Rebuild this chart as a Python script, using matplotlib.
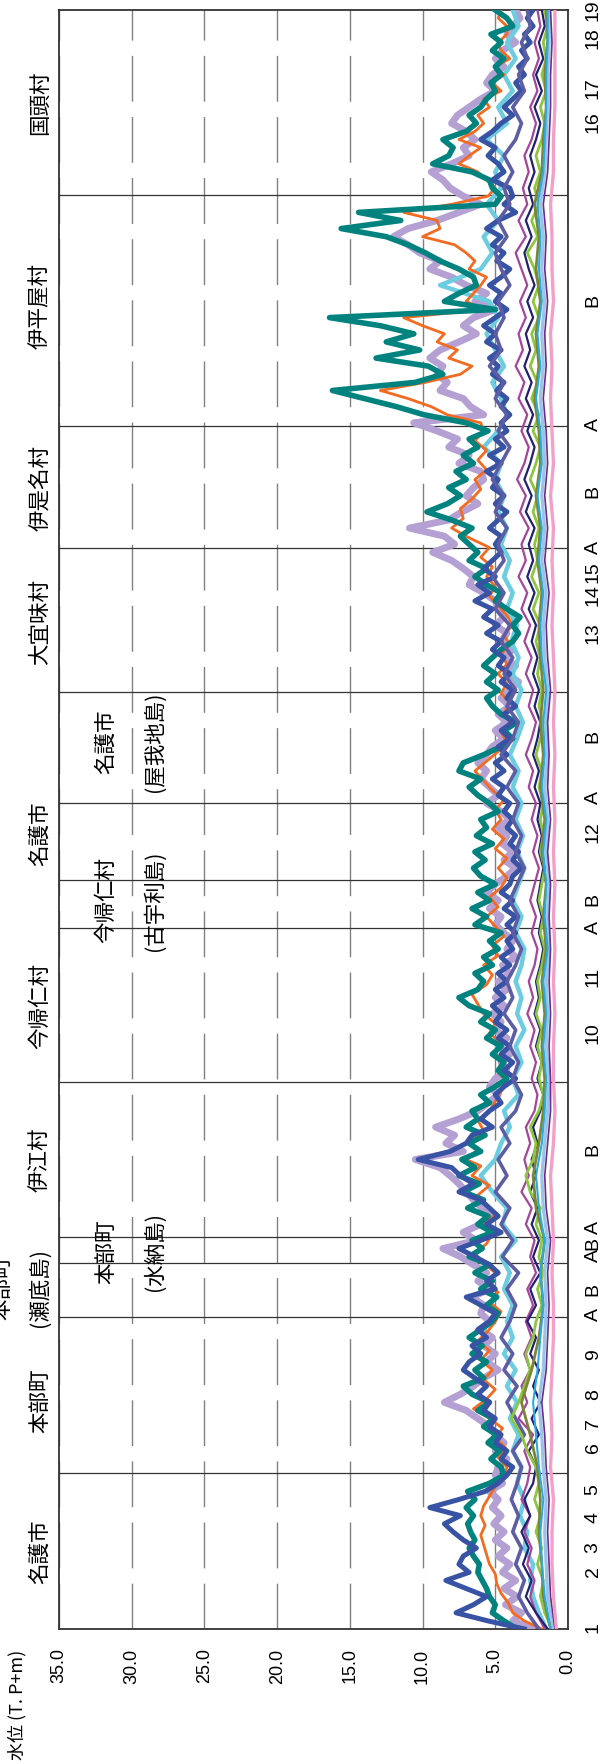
import matplotlib
matplotlib.use('Agg')
import matplotlib.pyplot as plt
import matplotlib.transforms as mtransforms
import numpy as np

plt.rcParams['font.family'] = ['Liberation Sans', 'Noto Sans CJK JP']

# position along the coast (0 = point 1, 1000 = point 19)
pos5 = np.arange(0, 1001, 5)
pos10 = np.arange(0, 1001, 10)
pos20 = np.arange(0, 1001, 20)

teal = [3.5, 4.4, 5.2, 5.0, 5.4, 5.6, 5.9, 6.2, 6.1, 6.5, 6.8, 6.4, 6.7, 6.9, 6.5, 7.0, 6.4, 6.9, 5.4, 4.4,
        4.6, 5.3, 4.7, 5.5, 4.9, 5.8, 5.1, 6.2, 5.4, 6.6, 7.2, 5.8, 6.4, 5.6, 6.6, 5.9, 6.8, 6.0, 5.2, 4.8,
        5.6, 4.9, 6.0, 5.2, 6.4, 5.4, 6.8, 5.9, 6.6, 5.2, 6.2, 5.5, 6.9, 5.8, 7.2, 6.1, 7.5, 6.4, 7.3, 6.0,
        6.8, 5.7, 7.0, 6.2, 6.6, 5.4, 6.0, 5.0, 4.2, 4.8, 4.4, 5.2, 4.6, 5.6, 5.0, 6.0, 5.4, 6.8, 7.5, 6.2,
        5.8, 6.4, 5.2, 5.8, 4.8, 5.4, 4.6, 6.4, 5.6, 6.6, 5.4, 6.2, 5.0, 6.0, 6.5, 5.7, 6.4, 5.2, 6.3, 5.6,
        6.0, 4.8, 5.4, 6.2, 6.8, 6.0, 7.5, 7.2, 5.8, 4.6, 3.8, 4.4, 3.5, 4.6, 5.2, 5.6, 4.8, 5.6, 5.0, 5.8,
        5.2, 4.6, 3.8, 3.4, 3.8, 3.3, 4.2, 5.0, 4.6, 5.6, 6.4, 5.6, 6.8, 6.2, 6.8, 7.4, 6.6, 8.0, 9.7, 8.3,
        7.4, 8.2, 7.0, 7.7, 6.5, 7.2, 6.2, 6.8, 5.5, 7.0, 9.9, 11.8, 14.0, 16.2, 10.5, 8.6, 9.6, 13.2, 10.2, 12.5,
        10.6, 12.9, 16.4, 5.0, 8.5, 7.5, 6.3, 6.5, 7.5, 8.8, 9.8, 11.0, 12.5, 15.6, 11.5, 14.4, 5.0, 4.6, 5.2, 5.4,
        6.6, 9.3, 8.2, 7.9, 8.6, 7.0, 6.3, 6.8, 6.0, 5.6, 5.0, 5.3, 4.6, 5.0, 4.4, 5.2, 4.6, 5.3, 3.8, 4.2,
        5.0]

lavender = [2.5, 3.8, 3.2, 4.3, 3.5, 4.4, 3.6, 4.5, 4.0, 4.8, 4.2, 5.0, 4.4, 5.1, 4.6, 5.2, 4.8, 5.4, 4.5, 5.0,
            4.8, 4.2, 5.0, 4.4, 5.0, 5.4, 6.2, 7.0, 8.5, 7.4, 6.5, 5.8, 4.8, 5.6, 5.0, 5.8, 5.2, 6.0, 5.4, 6.0,
            5.8, 6.6, 5.4, 6.2, 5.6, 6.5, 7.4, 8.6, 6.3, 7.2, 6.0, 5.0, 5.9, 6.5, 7.0, 7.5, 8.1, 8.8, 10.5, 7.2,
            8.4, 7.8, 9.1, 7.5, 6.2, 5.5, 4.8, 5.4, 5.0, 4.2, 4.6, 4.0, 4.8, 4.2, 5.0, 4.6, 5.2, 4.4, 5.0, 4.2,
            4.8, 4.0, 4.5, 3.6, 4.2, 3.8, 4.4, 5.0, 4.6, 5.4, 4.8, 5.6, 5.0, 4.2, 3.6, 4.4, 3.8, 4.5, 4.2, 4.8,
            4.0, 4.6, 5.6, 4.8, 5.4, 6.0, 5.6, 6.2, 5.6, 5.2, 4.4, 5.0, 4.2, 4.8, 4.0, 4.6, 4.0, 3.4, 4.2, 3.6,
            4.4, 3.8, 4.6, 4.2, 5.0, 4.4, 4.8, 5.0, 5.8, 6.8, 6.5, 7.2, 8.0, 9.3, 7.8, 8.5, 10.9, 8.2, 7.3, 6.2,
            7.0, 6.5, 5.8, 6.0, 7.5, 6.8, 8.2, 7.6, 9.0, 10.6, 5.8, 6.7, 7.2, 8.8, 8.3, 9.0, 8.6, 9.5, 8.8, 7.5,
            6.3, 7.2, 6.5, 5.0, 6.4, 5.6, 7.0, 8.0, 9.5, 8.8, 10.2, 11.0, 12.0, 11.0, 9.0, 7.5, 6.0, 7.2, 8.1, 8.6,
            9.4, 8.0, 6.8, 7.2, 6.4, 7.0, 8.0, 7.6, 6.8, 6.0, 5.0, 5.6, 5.2, 4.4, 5.0, 4.5, 3.6, 4.2, 3.8, 3.3,
            3.6]

blue = [3.0, 5.5, 7.7, 6.5, 5.6, 7.0, 8.4, 6.8, 7.5, 7.2, 6.3, 7.2, 7.9, 8.5, 7.4, 9.5, 7.5, 5.7, 4.8, 4.2,
        3.8, 4.6, 4.2, 5.0, 4.6, 5.4, 5.0, 5.8, 5.4, 6.2, 5.6, 6.4, 7.2, 6.8, 6.0, 6.6, 5.6, 6.2, 5.4, 5.0,
        6.0, 7.0, 5.0, 5.6, 4.8, 5.4, 6.4, 7.5, 6.0, 4.6, 5.6, 4.8, 5.4, 6.0, 7.5, 6.5, 7.4, 8.0, 10.3, 8.1,
        7.0, 6.6, 5.2, 6.0, 5.4, 4.6, 5.0, 4.4, 3.6, 4.4, 3.8, 4.6, 4.0, 4.8, 4.2, 5.0, 4.6, 5.2, 4.4, 5.0,
        4.2, 4.8, 4.0, 4.6, 3.8, 4.2, 3.6, 4.2, 3.6, 4.4, 3.8, 4.6, 4.0, 3.8, 3.2, 3.8, 3.4, 4.0, 3.6, 4.2,
        3.8, 4.4, 4.0, 4.8, 4.4, 5.2, 4.4, 5.0, 4.2, 4.8, 4.0, 4.6, 3.8, 4.4, 3.6, 4.2, 3.8, 4.6, 4.0, 4.8,
        4.4, 5.2, 4.6, 5.6, 4.8, 5.8, 5.2, 6.4, 5.4, 6.2, 5.0, 5.8, 5.2, 4.6, 5.0, 4.6, 5.4, 4.8, 4.2, 5.0,
        4.4, 5.2, 4.8, 5.6, 4.6, 5.4, 4.4, 5.0, 4.2, 4.6, 4.0, 4.6, 4.2, 4.9, 4.4, 5.2, 4.8, 5.4, 4.6, 5.6,
        5.0, 5.8, 5.0, 4.2, 5.0, 4.6, 5.4, 4.6, 4.0, 4.9, 4.4, 5.2, 4.6, 5.6, 4.8, 3.6, 4.4, 3.8, 4.0, 5.2,
        4.4, 4.8, 5.5, 5.0, 6.0, 5.2, 4.6, 3.8, 4.4, 3.8, 3.2, 3.6, 3.0, 3.4, 2.8, 3.2, 2.6, 3.0, 2.4, 2.8,
        2.4]

orange = [(0, 1.8), (5, 3.0), (10, 3.8), (16, 4.1), (22, 4.6), (28, 4.9), (34, 5.0), (40, 5.4), (46, 5.6),
          (52, 5.8), (58, 6.0), (64, 5.7), (70, 6.0), (76, 5.8), (82, 5.4), (88, 5.0), (94, 4.4),
          (100, 4.2), (106, 4.8), (112, 4.3), (118, 5.0), (124, 4.5), (130, 5.4), (136, 6.5), (142, 5.6),
          (148, 5.0), (154, 5.8), (160, 5.2), (166, 6.0), (172, 5.4), (178, 6.2), (184, 5.5), (190, 5.0),
          (196, 4.6), (202, 5.4), (208, 4.8), (214, 5.6), (220, 5.0), (226, 5.8), (232, 6.4), (238, 5.6),
          (244, 5.2), (250, 5.8), (256, 5.0), (262, 5.6), (268, 6.2), (274, 5.4), (280, 6.6), (286, 6.0),
          (290, 7.0), (296, 6.2), (302, 6.8), (308, 5.8), (314, 6.2), (320, 5.4), (326, 5.0), (332, 4.6),
          (338, 4.2), (344, 4.8), (350, 4.4), (356, 5.0), (362, 4.6), (368, 5.4), (374, 5.0), (380, 5.8),
          (386, 6.2), (392, 6.6), (398, 5.6), (404, 5.2), (410, 5.8), (416, 4.8), (422, 5.2), (428, 4.4),
          (434, 5.0), (440, 5.6), (446, 4.8), (452, 5.4), (458, 4.6), (464, 4.2), (470, 4.8), (476, 4.2),
          (482, 5.0), (488, 4.4), (494, 5.2), (500, 4.6), (506, 5.0), (512, 4.4), (518, 5.2), (524, 5.8),
          (530, 6.4), (536, 5.6), (542, 4.8), (548, 4.2), (554, 4.6), (560, 4.0), (566, 4.4), (572, 4.0),
          (578, 4.6), (584, 4.2), (590, 4.8), (596, 4.2), (602, 4.6), (608, 4.0), (614, 4.4), (620, 3.8),
          (626, 4.2), (632, 4.8), (638, 5.4), (644, 5.0), (650, 5.6), (656, 5.2), (662, 6.0), (668, 5.4),
          (674, 6.8), (680, 8.0), (686, 7.2), (692, 7.4), (698, 6.6), (704, 6.0), (710, 6.4), (716, 5.6),
          (722, 6.2), (728, 5.6), (734, 6.4), (740, 5.8), (745, 6.0), (750, 8.3), (755, 9.4), (760, 11.0),
          (765, 12.9), (770, 9.8), (775, 7.4), (780, 6.6), (785, 8.2), (790, 7.6), (795, 9.0), (800, 8.5),
          (805, 10.0), (810, 11.3), (815, 5.8), (820, 7.0), (825, 6.5), (830, 6.0), (835, 5.6), (840, 6.8),
          (845, 6.4), (850, 7.0), (855, 7.8), (860, 10.0), (865, 8.8), (870, 9.0), (875, 11.3), (880, 8.0),
          (885, 5.5), (890, 5.0), (895, 5.6), (900, 6.2), (905, 7.5), (910, 6.8), (915, 6.0), (920, 7.5),
          (925, 6.4), (930, 5.8), (935, 6.2), (940, 5.4), (945, 5.8), (950, 4.6), (955, 5.2), (960, 4.4),
          (965, 5.0), (970, 4.0), (975, 4.6), (980, 4.8), (985, 4.2), (990, 4.2), (995, 4.8), (1000, 4.6)]

cyan = [1.5, 2.0, 2.4, 2.6, 2.4, 3.0, 2.8, 3.3, 3.0, 3.5,
        3.2, 3.8, 3.4, 4.0, 3.5, 4.2, 3.6, 4.4, 3.8, 4.2,
        3.8, 4.4, 4.0, 4.6, 3.6, 4.5, 4.2, 5.2, 6.0, 5.0,
        4.6, 4.0, 4.4, 3.4, 3.8, 3.2, 3.6, 3.0, 3.5, 3.2,
        3.6, 3.2, 3.0, 3.6, 3.2, 3.8, 3.4, 3.0, 3.5, 3.1,
        3.6, 3.2, 3.8, 3.4, 4.0, 3.5, 3.1, 3.6, 3.2, 3.8,
        3.4, 3.9, 3.5, 4.2, 3.8, 4.4, 4.0, 4.6, 4.2, 4.8,
        4.4, 5.0, 4.6, 5.8, 4.8, 4.2, 4.6, 5.2, 4.4, 5.0,
        5.6, 4.8, 5.4, 8.8, 6.0, 5.2, 5.8, 4.8, 5.6, 4.6,
        5.0, 4.4, 5.6, 4.2, 4.8, 3.8, 4.4, 3.6, 4.2, 3.4,
        3.8]

slate = [2.0, 2.8, 3.4, 3.0, 3.6, 3.2, 3.8, 3.4, 3.9, 3.5,
         3.2, 3.8, 3.0, 3.6, 4.2, 3.5, 4.4, 3.8, 4.6, 4.0,
         3.6, 4.2, 3.4, 4.5, 3.8, 4.6, 4.0, 5.0, 4.2, 4.8,
         4.0, 4.6, 3.6, 3.2, 3.8, 3.4, 4.0, 3.6, 4.4, 3.8,
         4.2, 3.6, 3.2, 3.8, 3.4, 4.0, 3.5, 3.0, 3.6, 3.2,
         3.8, 3.4, 4.2, 3.6, 4.6, 3.8, 3.4, 4.2, 3.6, 4.4,
         3.8, 4.6, 4.0, 5.0, 4.4, 5.2, 4.4, 4.8, 4.2, 5.0,
         4.4, 5.2, 4.6, 4.0, 4.8, 4.2, 5.0, 4.4, 5.4, 4.6,
         5.0, 4.4, 4.8, 4.0, 4.6, 5.0, 4.2, 4.8, 4.0, 4.4,
         3.8, 4.4, 3.6, 3.2, 3.8, 3.0, 3.4, 2.8, 3.2, 2.6,
         2.8]

magenta = [1.6, 2.2, 2.6, 2.3, 2.8, 2.5, 3.0, 2.6, 3.2, 2.8,
           2.6, 3.0, 2.4, 3.4, 2.8, 3.2, 2.6, 3.0, 2.5, 2.9,
           2.4, 2.8, 2.2, 2.6, 2.3, 2.9, 2.5, 3.2, 2.7, 3.0,
           2.6, 2.9, 2.3, 2.1, 2.5, 2.2, 2.6, 2.3, 2.8, 2.4,
           2.7, 2.3, 2.1, 2.5, 2.2, 2.6, 2.3, 2.0, 2.4, 2.1,
           2.5, 2.2, 2.7, 2.4, 2.9, 2.5, 2.2, 2.7, 2.4, 2.9,
           2.5, 3.0, 2.6, 3.2, 2.8, 3.4, 2.9, 3.2, 2.7, 3.3,
           2.9, 3.5, 3.0, 2.7, 3.2, 2.8, 3.4, 3.0, 3.6, 3.1,
           3.4, 2.9, 3.3, 2.8, 3.2, 3.6, 2.9, 3.4, 2.8, 3.1,
           2.7, 3.0, 2.5, 2.2, 2.6, 2.1, 2.4, 2.0, 2.3, 1.9,
           2.1]

navy = [1.4, 2.2, 2.9, 2.5, 3.1, 2.7, 3.2, 2.6, 3.0, 2.4,
        2.2, 2.7, 2.0, 2.5, 1.9, 2.4, 2.0, 2.6, 2.2, 2.8,
        2.2, 2.6, 1.9, 2.4, 2.0, 2.5, 2.1, 2.6, 2.2, 2.5,
        2.1, 2.4, 1.9, 1.7, 2.1, 1.8, 2.2, 1.9, 2.3, 2.0,
        2.2, 1.9, 1.7, 2.0, 1.8, 2.1, 1.9, 1.7, 2.0, 1.8,
        2.1, 1.9, 2.3, 2.0, 2.4, 2.1, 1.9, 2.3, 2.0, 2.4,
        2.1, 2.5, 2.2, 2.7, 2.3, 2.8, 2.4, 2.7, 2.3, 2.9,
        2.5, 3.0, 2.6, 2.3, 2.8, 2.4, 2.9, 2.5, 3.0, 2.6,
        2.9, 2.4, 2.8, 2.3, 2.7, 3.0, 2.5, 2.9, 2.4, 2.7,
        2.3, 2.6, 2.2, 1.9, 2.3, 1.8, 2.2, 1.7, 2.0, 1.6,
        1.8]

lime = [1.1, 1.6, 1.9, 1.7, 2.1, 1.8, 2.2, 1.9, 2.3, 2.0,
        2.2, 2.8, 3.2, 3.9, 3.4, 3.0, 2.6, 2.9, 2.4, 2.2,
        1.8, 2.1, 1.7, 2.0, 1.8, 2.2, 1.9, 2.6, 2.9, 2.4,
        2.2, 2.6, 2.0, 1.7, 2.0, 1.8, 2.1, 1.8, 2.2, 1.9,
        2.1, 1.8, 1.6, 1.9, 1.7, 2.0, 1.8, 1.6, 1.9, 1.7,
        1.9, 1.7, 2.0, 1.8, 2.2, 1.9, 1.7, 2.0, 1.8, 2.1,
        1.9, 2.2, 1.9, 2.4, 2.0, 2.5, 2.1, 2.3, 2.0, 2.4,
        2.1, 2.6, 2.2, 1.9, 2.4, 2.0, 2.5, 2.1, 2.6, 2.2,
        2.5, 2.0, 2.4, 2.0, 2.3, 2.8, 2.1, 2.5, 2.0, 2.3,
        1.9, 2.2, 1.8, 1.6, 1.9, 1.5, 1.8, 1.5, 1.7, 1.4,
        1.6]

olive = [1.2, 1.7, 1.8, 2.0, 1.9, 2.1, 2.6, 3.2, 2.5, 2.0,
         1.7, 1.9, 1.6, 2.2, 2.4, 2.0, 1.7, 1.6, 1.8, 1.6,
         1.8, 1.5, 1.7, 1.5, 1.8, 1.6, 1.9, 1.7, 1.9, 1.7,
         1.9, 2.0, 1.8, 2.1, 1.9, 2.2, 1.9, 2.0, 2.3, 2.0,
         2.2, 1.9, 2.2, 2.0, 2.3, 1.8, 1.7, 1.5, 1.6, 1.4,
         1.5]

lightblue = [1.0, 1.4, 1.5, 1.6, 1.5, 1.7, 1.8, 2.0, 1.7, 1.6,
             1.5, 1.6, 1.4, 1.7, 1.8, 1.6, 1.4, 1.3, 1.5, 1.4,
             1.5, 1.3, 1.4, 1.3, 1.5, 1.4, 1.6, 1.4, 1.5, 1.4,
             1.6, 1.7, 1.5, 1.8, 1.6, 1.8, 1.6, 1.7, 1.9, 1.7,
             1.8, 1.6, 1.8, 1.7, 1.9, 1.6, 1.5, 1.4, 1.4, 1.3,
             1.3]

sky = [1.2, 1.6, 1.8, 1.9, 1.7, 2.0, 2.2, 2.4, 2.1, 1.9,
       1.7, 1.9, 1.6, 2.0, 2.2, 1.8, 1.6, 1.5, 1.7, 1.5,
       1.7, 1.4, 1.6, 1.5, 1.7, 1.5, 1.8, 1.6, 1.7, 1.5,
       1.8, 1.9, 1.7, 2.0, 1.8, 2.1, 1.8, 1.9, 2.2, 1.9,
       2.1, 1.8, 2.0, 1.9, 2.1, 1.7, 1.6, 1.5, 1.5, 1.4,
       1.4]

darkpurple = [0.9, 1.2, 1.3, 1.4, 1.3, 1.5, 1.6, 1.8, 1.5, 1.4,
              1.3, 1.4, 1.2, 1.5, 1.6, 1.4, 1.2, 1.2, 1.3, 1.2,
              1.3, 1.2, 1.3, 1.2, 1.4, 1.2, 1.4, 1.3, 1.4, 1.2,
              1.4, 1.5, 1.3, 1.6, 1.4, 1.6, 1.4, 1.5, 1.7, 1.5,
              1.6, 1.4, 1.6, 1.5, 1.7, 1.4, 1.3, 1.2, 1.2, 1.1,
              1.2]

pink = [0.8, 1.0, 1.1, 1.1, 1.0, 1.2, 1.1, 1.2, 1.1, 1.0,
        1.0, 1.1, 1.0, 1.1, 1.2, 1.0, 0.9, 1.0, 1.0, 0.9,
        1.0, 0.9, 1.0, 0.9, 1.0, 0.9, 1.0, 0.9, 1.0, 0.9,
        1.0, 1.1, 1.0, 1.1, 1.0, 1.2, 1.0, 1.1, 1.2, 1.1,
        1.2, 1.0, 1.1, 1.1, 1.2, 1.0, 1.0, 0.9, 0.9, 0.9,
        0.9]

# axis labels along the coast
tick_pos = [1, 35.2, 50.6, 68.6, 85.9, 111.8, 127.2, 144.5, 169.2, 194, 209.4, 231, 238.4, 248.3,
            295.9, 368.1, 402.7, 433.6, 450.3, 492.3, 513.3, 551, 615.2, 638.7, 652.9, 668.3,
            702.3, 743.7, 820.3, 930.8, 951.8, 982.7, 1000]
tick_lab = ['1', '2', '3', '4', '5', '6', '7', '8', '9', 'A', 'B', 'A', 'B', 'A', 'B', '10', '11',
            'A', 'B', '12', 'A', 'B', '13', '14', '15', 'A', 'B', 'A', 'B', '16', '17', '18', '19']
dividers = [96.4, 192.7, 226, 242, 337.9, 433, 462.6, 510, 578.8, 667.7, 743, 885.7]

# municipality names outside the frame and island names inside it
names_out = [('名護市', 48), ('本部町', 141), ('(瀬底島)', 211), ('伊江村', 290), ('今帰仁村', 385),
             ('名護市', 491), ('大宜味村', 622), ('伊是名村', 705), ('伊平屋村', 817), ('国頭村', 943)]
names_in = [('本部町', '(水納島)', 233), ('今帰仁村', '(古宇利島)', 450), ('名護市', '(屋我地島)', 548)]

W, H = 613, 1764
fig = plt.figure(figsize=(W / 100, H / 100), dpi=100)
ax = fig.add_axes([59 / W, 1 - 1629 / H, 509 / W, 1619 / H])

o = np.array(orange)
series = [
    (pos5, lavender, '#B4A0D2', 5.0),
    (pos10, cyan, '#6CCDE0', 3.2),
    (o[:, 0], o[:, 1], '#F36B21', 2.0),
    (pos5, teal, '#00837E', 4.0),
    (pos5, blue, '#3853A4', 3.6),
    (pos10, slate, '#5C5DA3', 2.6),
    (pos10, magenta, '#A5449B', 1.6),
    (pos10, navy, '#22206F', 1.6),
    (pos10, lime, '#8DC63F', 2.0),
    (pos20, olive, '#7B8437', 2.0),
    (pos20, lightblue, '#9CC3E5', 2.4),
    (pos20, sky, '#2AAAE2', 1.5),
    (pos20, darkpurple, '#6A2C8E', 1.2),
    (pos20, pink, '#F4A0C6', 2.4),
]
for p, v, c, lw in series:
    ax.plot(v, p, color=c, lw=lw, solid_joinstyle='round', zorder=3)

for d in dividers:
    ax.axhline(d, color='#333333', lw=0.9, zorder=2)

ax.set_xlim(35, 0)
ax.set_ylim(0, 1000)
ax.set_xticks(np.arange(0, 36, 5))
ax.set_xticklabels(['%.1f' % t for t in np.arange(0, 36, 5)], rotation=90, fontsize=13)
ax.tick_params(axis='x', length=0, pad=14)
ax.grid(axis='x', color='#808080', linestyle=(0, (33, 11)), lw=1.0, zorder=1)

ax.yaxis.tick_right()
ax.set_yticks(tick_pos)
ax.set_yticklabels(tick_lab, rotation=90, fontsize=14, va='center')
ax.tick_params(axis='y', length=0, pad=12)
for s in ax.spines.values():
    s.set_linewidth(1.3)
    s.set_color('#333333')

cjk = ['Noto Sans CJK JP']
tr = mtransforms.blended_transform_factory(fig.transFigure, ax.transData)
for name, p in names_out:
    ax.text(40 / W, p, name, transform=tr, rotation=90, ha='center', va='center',
            fontsize=15.5, family=cjk, clip_on=False)
ax.text(2 / W, 211, '本部町', transform=tr, rotation=90, ha='center', va='center',
        fontsize=15.5, family=cjk, clip_on=False)
for a, b, p in names_in:
    ax.text(106 / W, p, a, transform=tr, rotation=90, ha='center', va='center',
            fontsize=15.5, family=cjk, zorder=5)
    ax.text(155 / W, p, b, transform=tr, rotation=90, ha='center', va='center',
            fontsize=15.5, family=cjk, zorder=5)

fig.text(17 / W, 1 - 1650 / H, '水位 (T. P+m)', rotation=90, ha='center', va='top',
         fontsize=13, family=['Noto Sans CJK JP', 'DejaVu Sans'])

fig.savefig('out.png', dpi=100)
